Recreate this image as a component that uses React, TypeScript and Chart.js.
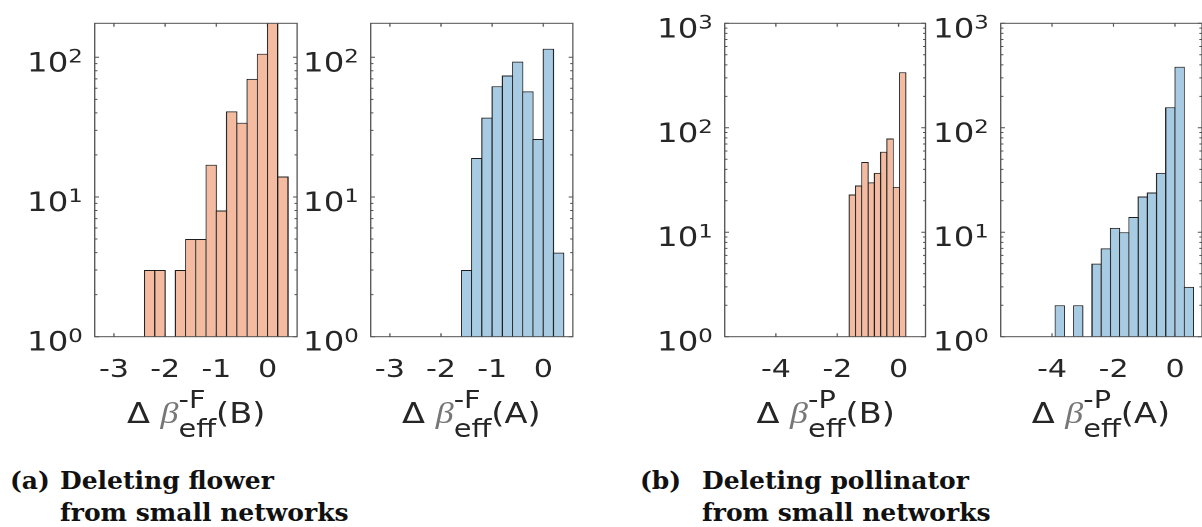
import React, { useEffect, useRef } from 'react';
import { Chart, registerables } from 'chart.js';

Chart.register(...registerables);

// ---------------- data ----------------
// bin centres and counts (0 = empty bin)
const flowerBinCentersB = [-2.3, -2.1, -1.9, -1.7, -1.5, -1.3, -1.1, -0.9, -0.7, -0.5, -0.3, -0.1, 0.1, 0.3];
const flowerCountsB = [3, 3, 0, 3, 5, 5, 17, 8, 41, 34, 70, 106, 178, 14];

const flowerBinCentersA = [-1.5, -1.3, -1.1, -0.9, -0.7, -0.5, -0.3, -0.1, 0.1, 0.3];
const flowerCountsA = [3, 19, 37, 62, 74, 93, 57, 26, 115, 4];

const pollBinCentersB = [-1.5075, -1.3025, -1.0975, -0.8925, -0.6875, -0.4825, -0.2775, -0.0725, 0.1325];
const pollCountsB = [23, 28, 47, 30, 37, 59, 79, 27, 340];

const pollBinCentersA = [-3.75, -3.45, -3.15, -2.85, -2.55, -2.25, -1.95, -1.65, -1.35, -1.05, -0.75, -0.45, -0.15, 0.15, 0.45];
const pollCountsA = [2, 0, 2, 0, 5, 7, 11, 10, 14, 22, 24, 37, 157, 384, 3];

// tick values / labels
const flowerXTicks = [-3, -2, -1, 0];
const pollXTicks = [-4, -2, 0];
const flowerYTicks = [1, 10, 100];
const pollYTicks = [1, 10, 100, 1000];
// y tick labels: base and exponent (10^k)
const yTickLabels: Record<number, [string, string]> = {
  1: ['10', '0'],
  10: ['10', '1'],
  100: ['10', '2'],
  1000: ['10', '3'],
};

// axis title pieces
const titleSups = ['-F', '-F', '-P', '-P'];
const titleTags = ['B', 'A', 'B', 'A'];

// captions
const captionLabels = ['(a)', '(b)'];
const captionLines = [
  ['Deleting flower', 'from small networks'],
  ['Deleting pollinator', 'from small networks'],
];

// ---------------- styling / layout ----------------
const S = 1.2; // horizontal stretch of the figure area
const YAXIS_W = 60;
const CANVAS_H = 400;
const AREA_T = 23.3;
const AREA_B = 336.7;
const ORANGE = 'rgb(244,187,161)';
const BLUE = 'rgb(166,203,227)';
const EDGE = '#1e1e1e';
const AXIS = '#505050';
const TEXT = '#262626';
const BW = 1;
const FONT = "'DejaVu Sans', sans-serif";

type PanelCfg = {
  centers: number[];
  counts: number[];
  color: string;
  xMin: number;
  xMax: number;
  yMax: number;
  xTicks: number[];
  yTicks: number[];
  L: number;
  R: number;
  sup: string;
  tag: string;
};

const panels: PanelCfg[] = [
  { centers: flowerBinCentersB, counts: flowerCountsB, color: ORANGE, xMin: -3.373, xMax: 0.578, yMax: 175, xTicks: flowerXTicks, yTicks: flowerYTicks, L: 95, R: 297.3, sup: titleSups[0], tag: titleTags[0] },
  { centers: flowerBinCentersA, counts: flowerCountsA, color: BLUE, xMin: -3.373, xMax: 0.578, yMax: 175, xTicks: flowerXTicks, yTicks: flowerYTicks, L: 370.3, R: 572.3, sup: titleSups[1], tag: titleTags[1] },
  { centers: pollBinCentersB, counts: pollCountsB, color: ORANGE, xMin: -5.667, xMax: 0.878, yMax: 1000, xTicks: pollXTicks, yTicks: pollYTicks, L: 725.3, R: 926, sup: titleSups[2], tag: titleTags[2] },
  { centers: pollBinCentersA, counts: pollCountsA, color: BLUE, xMin: -5.667, xMax: 0.878, yMax: 1000, xTicks: pollXTicks, yTicks: pollYTicks, L: 1000.3, R: 1201.5, sup: titleSups[3], tag: titleTags[3] },
];

function framePlugin(cfg: PanelCfg) {
  const MAJOR = 3.5;
  const MINOR = 2.2;
  return {
    id: 'matlabFrame',
    beforeDatasetsDraw(chart: any) {
      const { ctx, chartArea: a, scales } = chart;
      const x = scales.x;
      const y = scales.y;
      ctx.save();
      ctx.strokeStyle = AXIS;
      ctx.lineWidth = 1;
      ctx.beginPath();
      for (const v of cfg.xTicks) {
        const px = x.getPixelForValue(v);
        ctx.moveTo(px, a.bottom);
        ctx.lineTo(px, a.bottom - MAJOR);
        ctx.moveTo(px, a.top);
        ctx.lineTo(px, a.top + MAJOR);
      }
      for (const d of cfg.yTicks) {
        const py = y.getPixelForValue(d);
        ctx.moveTo(a.left, py);
        ctx.lineTo(a.left + MAJOR, py);
        ctx.moveTo(a.right, py);
        ctx.lineTo(a.right - MAJOR, py);
        for (let k = 2; k <= 9; k++) {
          const v = d * k;
          if (v >= cfg.yMax) break;
          const pm = y.getPixelForValue(v);
          ctx.moveTo(a.left, pm);
          ctx.lineTo(a.left + MINOR, pm);
          ctx.moveTo(a.right, pm);
          ctx.lineTo(a.right - MINOR, pm);
        }
      }
      ctx.stroke();
      ctx.restore();
    },
    afterDatasetsDraw(chart: any) {
      const { ctx, chartArea: a, scales } = chart;
      const y = scales.y;
      ctx.save();
      ctx.strokeStyle = AXIS;
      ctx.lineWidth = 1;
      ctx.strokeRect(a.left, a.top, a.right - a.left, a.bottom - a.top);
      // y tick labels as 10 with a raised exponent
      ctx.fillStyle = TEXT;
      ctx.textBaseline = 'alphabetic';
      for (const d of cfg.yTicks) {
        const lab = yTickLabels[d];
        if (!lab) continue;
        const py = y.getPixelForValue(d);
        const base = py + 14;
        ctx.font = `19px ${FONT}`;
        const ew = ctx.measureText(lab[1]).width;
        const expRight = a.left - 10;
        ctx.textAlign = 'left';
        ctx.fillText(lab[1], expRight - ew, base - 8.8);
        ctx.font = `27px ${FONT}`;
        ctx.textAlign = 'right';
        ctx.fillText(lab[0], expRight - ew, base);
      }
      ctx.restore();
    },
  };
}

function Panel({ cfg }: { cfg: PanelCfg }) {
  const ref = useRef<HTMLCanvasElement>(null);
  const Lu = cfg.L / S;
  const Ru = cfg.R / S;
  const areaW = Ru - Lu;
  const canvasLeft = Lu - YAXIS_W;
  const canvasW = Math.ceil(YAXIS_W + areaW + 4);
  const padR = canvasW - YAXIS_W - areaW;

  useEffect(() => {
    if (!ref.current) return;
    const binW = cfg.centers[1] - cfg.centers[0];
    const binPx = (areaW / (cfg.xMax - cfg.xMin)) * binW;
    const chart = new Chart(ref.current, {
      type: 'bar',
      data: {
        datasets: [
          {
            data: cfg.centers.map((c, i) => ({ x: c, y: cfg.counts[i] > 0 ? cfg.counts[i] : null })) as any,
            backgroundColor: cfg.color,
            borderColor: EDGE,
            borderWidth: BW,
            borderSkipped: 'start',
            barPercentage: 1 + BW / binPx,
            categoryPercentage: 1,
            inflateAmount: 0,
          } as any,
        ],
      },
      options: {
        responsive: false,
        maintainAspectRatio: false,
        animation: false,
        devicePixelRatio: 2,
        events: [],
        layout: { padding: { left: 0, right: padR, top: AREA_T, bottom: 0 } },
        plugins: { legend: { display: false }, tooltip: { enabled: false }, title: { display: false } },
        scales: {
          x: {
            type: 'linear',
            min: cfg.xMin,
            max: cfg.xMax,
            offset: false,
            grid: { display: false },
            border: { display: false },
            afterBuildTicks: (s: any) => {
              s.ticks = cfg.xTicks.map((v) => ({ value: v }));
            },
            afterFit: (s: any) => {
              s.height = CANVAS_H - AREA_B;
            },
            ticks: {
              autoSkip: false,
              maxRotation: 0,
              minRotation: 0,
              padding: 11,
              color: TEXT,
              font: { family: FONT, size: 25 },
              callback: (v: any) => String(v),
            },
          },
          y: {
            type: 'logarithmic',
            min: 1,
            max: cfg.yMax,
            beginAtZero: false,
            grid: { display: false },
            border: { display: false },
            afterBuildTicks: (s: any) => {
              s.ticks = cfg.yTicks.map((v) => ({ value: v }));
            },
            afterFit: (s: any) => {
              s.width = YAXIS_W;
            },
            ticks: { display: false },
          },
        },
      } as any,
      plugins: [framePlugin(cfg)],
    });
    return () => chart.destroy();
  }, []);

  const centerU = (Lu + Ru) / 2;

  return (
    <>
      <canvas
        ref={ref}
        width={canvasW}
        height={CANVAS_H}
        style={{ position: 'absolute', left: canvasLeft, top: 0, width: canvasW, height: CANVAS_H }}
      />
      <div
        style={{
          position: 'absolute',
          left: centerU,
          top: 388,
          transform: 'translateX(-50%)',
          whiteSpace: 'nowrap',
          fontFamily: FONT,
          fontSize: 28,
          lineHeight: '28px',
          color: TEXT,
        }}
      >
        Δ{' '}
        <span style={{ fontFamily: "'Liberation Serif', serif", fontStyle: 'italic', color: '#777777', fontSize: 30 }}>β</span>
        <span
          style={{
            display: 'inline-flex',
            flexDirection: 'column',
            verticalAlign: 'middle',
            fontSize: 24,
            lineHeight: '24px',
            rowGap: 5,
          }}
        >
          <span>{cfg.sup}</span>
          <span>eff</span>
        </span>
        ({cfg.tag})
      </div>
    </>
  );
}

export default function App() {
  const captionPos = [
    { left: 10, indent: 50 },
    { left: 640, indent: 62 },
  ];
  return (
    <div
      style={{
        position: 'absolute',
        left: 0,
        top: 0,
        width: 1202,
        height: 527,
        overflow: 'hidden',
        background: '#ffffff',
      }}
    >
      <div
        style={{
          position: 'absolute',
          left: 0,
          top: 0,
          width: 1202 / S,
          height: 440,
          transform: `scaleX(${S})`,
          transformOrigin: '0 0',
        }}
      >
        {panels.map((p, i) => (
          <Panel key={i} cfg={p} />
        ))}
      </div>
      {captionLabels.map((lab, i) => (
        <div
          key={lab}
          style={{
            position: 'absolute',
            left: captionPos[i].left,
            top: 465,
            display: 'flex',
            fontFamily: "'DejaVu Serif', serif",
            fontWeight: 'bold',
            fontSize: 25,
            lineHeight: '32px',
            color: '#111',
            whiteSpace: 'nowrap',
          }}
        >
          <span style={{ width: captionPos[i].indent, flex: 'none' }}>{lab}</span>
          <span>
            {captionLines[i][0]}
            <br />
            {captionLines[i][1]}
          </span>
        </div>
      ))}
    </div>
  );
}
